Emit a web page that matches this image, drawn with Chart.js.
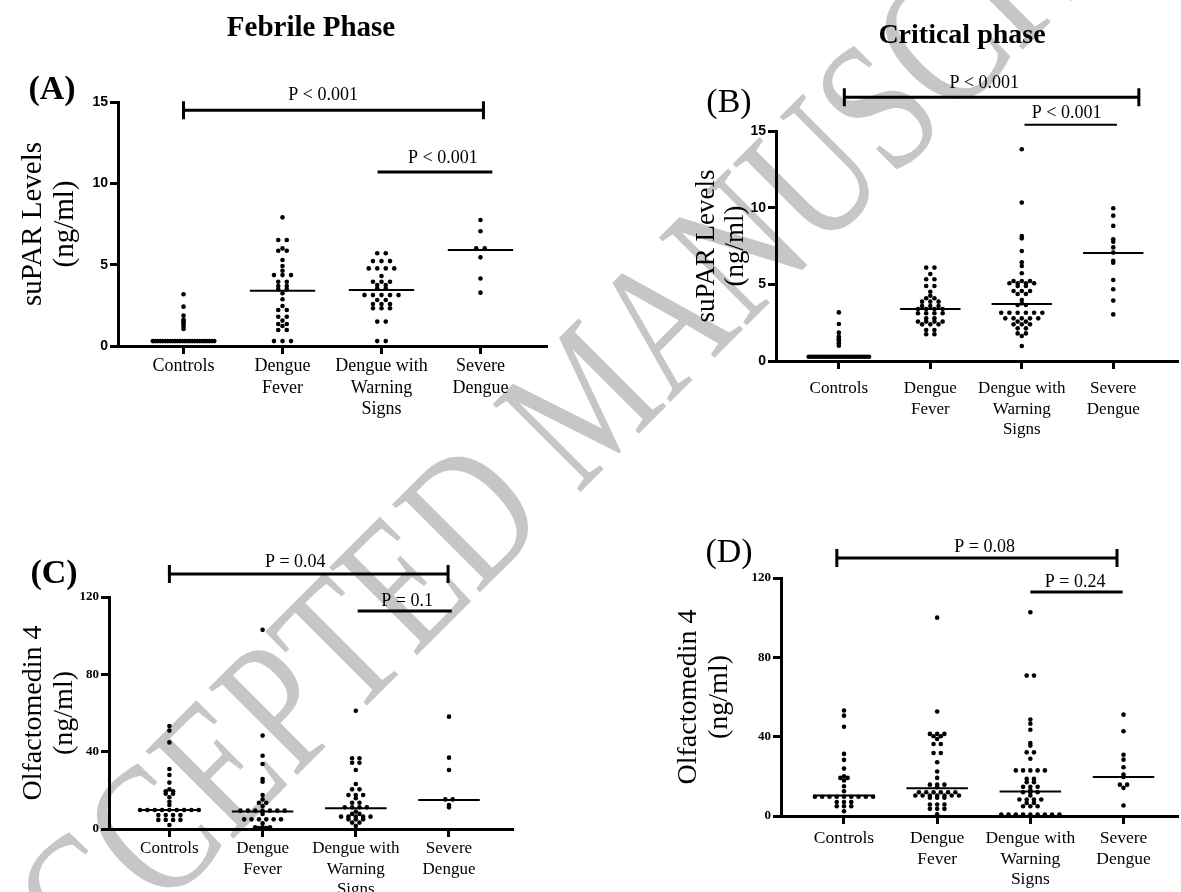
<!DOCTYPE html>
<html>
<head>
<meta charset="utf-8">
<script src="https://cdn.jsdelivr.net/npm/chart.js@4.4.0/dist/chart.umd.min.js"></script>
<style>
html, body { margin: 0; padding: 0; background: #fff; }
#page { position: relative; width: 1181px; height: 892px; overflow: hidden; }
#mark {
    position: absolute; left: 0; top: 0;
    font-family: "Liberation Serif", serif; font-size: 146px; line-height: 1;
    color: #c6c6c6; white-space: nowrap;
    transform-origin: 0 0; transform: translate(-94px, 942px) rotate(-45deg) scale(1, 1.3);
}
canvas { position: absolute; left: 0; top: 0; pointer-events: none; }
</style>
</head>
<body>
<div id="page">
<div id="mark">ACCEPTED MANUSCRIPT</div>
<canvas id="chartA" width="1181" height="892"></canvas>
<canvas id="chartB" width="1181" height="892"></canvas>
<canvas id="chartC" width="1181" height="892"></canvas>
<canvas id="chartD" width="1181" height="892"></canvas>
</div>
<script>
var groupLabels = [['Controls'], ['Dengue', 'Fever'], ['Dengue with', 'Warning', 'Signs'], ['Severe', 'Dengue']];

// (A) suPAR, febrile phase
var febSuparControls = [3.18, 2.42, 1.87, 1.62, 1.55, 1.45, 1.35, 1.2, 1.05,
    0.3, 0.3, 0.3, 0.3, 0.3, 0.3, 0.3, 0.3, 0.3, 0.3, 0.3, 0.3, 0.3,
    0.3, 0.3, 0.3, 0.3, 0.3, 0.3, 0.3, 0.3, 0.3, 0.3, 0.3, 0.3, 0.3];
var febSuparDF = [7.91, 6.52, 6.52, 6.0, 5.86, 5.86, 5.29, 4.92, 4.63, 4.36, 4.36, 4.36,
    3.95, 3.95, 3.69, 3.69, 3.48, 3.48, 3.24, 2.87, 2.46, 2.21, 2.21, 1.8, 1.8,
    1.56, 1.35, 1.35, 1.23, 0.98, 0.98, 0.3, 0.3, 0.3];
var febSuparDWS = [5.7, 5.7, 5.22, 5.22, 5.22, 4.77, 4.77, 4.77, 4.77, 4.3, 3.95, 3.95, 3.95,
    3.75, 3.75, 3.54, 3.54, 3.13, 3.13, 3.13, 3.13, 3.13, 2.83, 2.83, 2.58, 2.58, 2.58,
    2.32, 2.32, 2.32, 1.5, 1.5, 0.3, 0.3];
var febSuparSD = [7.75, 7.05, 6.0, 6.0, 5.45, 4.15, 3.28];
var febSuparMedians = [0.3, 3.4, 3.44, 5.9];
var febSuparP = ['P < 0.001', 'P < 0.001'];

// (B) suPAR, critical phase
var critSuparControls = [3.17, 2.41, 1.85, 1.6, 1.5, 1.4, 1.3, 1.15, 1.0,
    0.28, 0.28, 0.28, 0.28, 0.28, 0.28, 0.28, 0.28, 0.28, 0.28, 0.28, 0.28, 0.28,
    0.28, 0.28, 0.28, 0.28, 0.28, 0.28, 0.28, 0.28, 0.28, 0.28, 0.28, 0.28, 0.28];
var critSuparDF = [6.09, 6.09, 5.67, 5.33, 5.33, 4.89, 4.89, 4.52, 4.26, 4.09, 4.09,
    3.87, 3.87, 3.87, 3.59, 3.59, 3.59, 3.39, 3.39, 3.39, 3.39, 3.11, 3.11, 3.11, 3.11,
    2.78, 2.78, 2.57, 2.57, 2.57, 2.57, 2.39, 2.39, 2.39, 2.02, 2.02, 1.74, 1.74];
var critSuparDWS = [13.81, 10.33, 8.15, 8.0, 7.17, 6.44, 6.2, 5.72, 5.22, 5.22, 5.22,
    5.07, 5.07, 5.07, 5.07, 4.89, 4.89, 4.57, 4.57, 4.57, 4.37, 4.37, 3.98, 3.76, 3.65, 3.65,
    3.15, 3.15, 3.15, 3.15, 3.15, 3.15, 2.78, 2.78, 2.78, 2.78, 2.78, 2.57, 2.57,
    2.39, 2.39, 2.39, 2.13, 2.13, 1.8, 1.8, 1.63, 0.98];
var critSuparSD = [9.96, 9.48, 8.81, 7.94, 7.78, 7.41, 7.07, 6.54, 6.41, 5.28, 4.68, 3.94, 3.04];
var critSuparMedians = [0.28, 3.39, 3.72, 7.04];
var critSuparP = ['P < 0.001', 'P < 0.001'];

// (C) Olfactomedin 4, febrile phase
var febOlfControls = [53.3, 50.9, 44.8, 31.0, 27.9, 24.0, 20.5, 19.5, 19.5, 18.2, 18.2, 16.4, 14.1, 12.4,
    9.8, 9.8, 9.8, 9.8, 9.8, 9.8, 9.8, 9.8, 9.8, 7.2, 7.2, 7.2, 7.2, 4.7, 4.7, 4.7, 4.7, 2.1];
var febOlfDF = [103, 48.3, 37.9, 33.6, 25.9, 24.5, 17.6, 15.3, 13.6, 13.6, 11.9,
    9.5, 9.5, 9.5, 9.5, 9.5, 9.5, 9.5, 7.8, 5.0, 5.0, 5.0, 5.0, 5.0, 5.0, 2.9,
    0.9, 0.9, 0.9, 0.5, 0.5];
var febOlfDWS = [61.2, 36.6, 36.6, 34.3, 34.3, 30.5, 23.3, 20.5, 20.5, 17.6, 17.6, 17.6, 15.9,
    13.6, 13.6, 11.2, 11.2, 11.2, 11.2, 9.0, 7.8, 7.8, 6.4, 6.4, 6.4, 6.4, 6.4,
    5.0, 5.0, 5.0, 3.3, 3.3, 1.6];
var febOlfSD = [58.1, 36.9, 30.5, 15.3, 15.3, 12.4, 11.2];
var febOlfMedians = [9.8, 9.1, 10.7, 15.0];
var febOlfP = ['P = 0.04', 'P = 0.1'];

// (D) Olfactomedin 4, critical phase
var critOlfControls = [53.2, 50.6, 45.0, 31.3, 28.3, 23.9, 20.0, 19.2, 19.2, 17.9, 15.0, 12.5,
    9.7, 9.7, 9.7, 9.7, 9.7, 9.7, 9.7, 9.7, 9.7, 7.0, 7.0, 7.0, 4.9, 4.9, 4.9, 2.4];
var critOlfDF = [100.0, 52.7, 41.4, 41.4, 41.4, 40.2, 40.2, 38.8, 36.3, 36.3, 31.8, 31.8,
    27.1, 22.4, 19.2, 15.8, 15.8, 15.8, 14.5, 12.0, 12.0, 12.0, 12.0, 12.0, 12.0,
    10.3, 10.3, 10.3, 10.3, 10.3, 10.3, 10.3, 9.2, 9.2, 9.2, 5.8, 5.8, 5.8, 3.6, 3.6, 3.6, 0.8];
var critOlfDWS = [102.7, 70.8, 70.8, 48.6, 46.5, 43.5, 36.8, 35.5, 32.1, 32.1, 28.9,
    23.0, 23.0, 23.0, 23.0, 23.0, 18.7, 18.7, 17.0, 17.0, 14.7, 14.7, 14.7, 13.0,
    12.0, 12.0, 12.0, 10.3, 8.3, 8.3, 8.3, 8.3, 6.6, 6.6, 4.9, 4.9, 4.9,
    0.75, 0.75, 0.75, 0.75, 0.75, 0.75, 0.75, 0.75, 0.75];
var critOlfSD = [51.1, 42.7, 30.9, 28.4, 24.6, 20.9, 19.7, 15.8, 15.8, 14.2, 5.3];
var critOlfMedians = [10.3, 14.0, 12.3, 19.7];
var critOlfP = ['P = 0.08', 'P = 0.24'];

var SERIF = '"Liberation Serif", "Times New Roman", serif';
var SANS = '"Liberation Sans", Arial, sans-serif';
var MED_HALF = 0.33;

// dots of equal value sit side by side in one row, squeezed when the row is too wide
function swarm(values, cat, step, maxHalf) {
    var rows = {}, order = [];
    values.forEach(function(v) {
        if (!rows[v]) { rows[v] = 0; order.push(v); }
        rows[v]++;
    });
    var pts = [];
    order.forEach(function(v) {
        var n = rows[v];
        var s = n > 1 ? Math.min(step, 2 * maxHalf / (n - 1)) : 0;
        for (var i = 0; i < n; i++) pts.push({x: cat + (i - (n - 1) / 2) * s, y: v});
    });
    return pts;
}

function marksPlugin(p) {
    return {
        id: 'marks',
        afterDraw: function(chart) {
            var ctx = chart.ctx, xs = chart.scales.x, ys = chart.scales.y;
            ctx.save();
            ctx.fillStyle = '#000';
            ctx.strokeStyle = '#000';
            ctx.textAlign = 'center';
            ctx.textBaseline = 'middle';
            p.brackets.forEach(function(b, i) {
                var x1 = xs.getPixelForValue(b.from), x2 = xs.getPixelForValue(b.to);
                var y = ys.getPixelForValue(b.y);
                ctx.lineWidth = b.w;
                ctx.beginPath();
                ctx.moveTo(x1, y); ctx.lineTo(x2, y);
                if (b.ends) {
                    ctx.moveTo(x1, y - 9); ctx.lineTo(x1, y + 9);
                    ctx.moveTo(x2, y - 9); ctx.lineTo(x2, y + 9);
                }
                ctx.stroke();
                ctx.font = '18px ' + SERIF;
                ctx.fillText(p.pLabels[i], xs.getPixelForValue(b.tx), ys.getPixelForValue(b.ty));
            });
            ctx.font = p.letterFont;
            ctx.fillText(p.letter, p.letterAt[0], p.letterAt[1]);
            if (p.title) {
                ctx.font = p.titleFont;
                ctx.fillText(p.title, p.titleAt[0], p.titleAt[1]);
            }
            ctx.restore();
        }
    };
}

function makePanel(p) {
    var datasets = [];
    p.series.forEach(function(vals, i) {
        datasets.push({
            data: swarm(vals, i, p.step, p.maxHalf),
            pointRadius: 2.3, pointBackgroundColor: '#000', pointBorderWidth: 0, clip: false
        });
        datasets.push({
            data: [{x: i - MED_HALF, y: p.medians[i]}, {x: i + MED_HALF, y: p.medians[i]}],
            showLine: true, borderColor: '#000', borderWidth: 2, pointRadius: 0, clip: false
        });
    });
    var axisLine = {color: '#000', width: 3};
    var tickMarks = {drawOnChartArea: false, color: '#000', lineWidth: 3, tickLength: 8};

    new Chart(document.getElementById(p.id), {
        type: 'scatter',
        data: {datasets: datasets},
        options: {
            responsive: false,
            animation: false,
            events: [],
            layout: {padding: {left: p.padLeft, top: p.area[1], right: 1181 - p.area[2], bottom: 0}},
            plugins: {legend: {display: false}, tooltip: {enabled: false}},
            scales: {
                x: {
                    type: 'linear', min: p.xMin, max: p.xMax,
                    afterBuildTicks: function(s) { s.ticks = [0, 1, 2, 3].map(function(v) { return {value: v}; }); },
                    afterFit: function(s) { s.height = 892 - p.area[3]; },
                    ticks: {
                        callback: function(v) { return groupLabels[v]; },
                        autoSkip: false, maxRotation: 0, color: '#000', padding: p.xPad,
                        font: {family: SERIF, size: p.xFont, lineHeight: 1.18}
                    },
                    grid: tickMarks,
                    border: axisLine
                },
                y: {
                    min: 0, max: p.yMax,
                    afterFit: function(s) { s.width = p.area[0] - p.padLeft; },
                    ticks: {stepSize: p.yStep, color: '#000', padding: 2, font: p.yFont},
                    grid: tickMarks,
                    border: axisLine,
                    title: {
                        display: true, text: p.yTitle, color: '#000', padding: {top: 0, bottom: 0},
                        font: {family: SERIF, size: p.titleSize, lineHeight: 1.08}
                    }
                }
            }
        },
        plugins: [marksPlugin(p)]
    });
}

makePanel({
    id: 'chartA', area: [118, 102, 546, 346], padLeft: 18,
    xMin: -0.662, xMax: 3.662, step: 0.086, maxHalf: 0.31, xFont: 18, xPad: 2,
    yMax: 15, yStep: 5, yFont: {family: SANS, size: 14, weight: 'bold'},
    yTitle: ['suPAR Levels', '(ng/ml)'], titleSize: 29,
    series: [febSuparControls, febSuparDF, febSuparDWS, febSuparSD], medians: febSuparMedians,
    pLabels: febSuparP,
    brackets: [
        {from: 0, to: 3.03, y: 14.5, ends: true, w: 3, tx: 1.41, ty: 15.43},
        {from: 1.96, to: 3.12, y: 10.7, ends: false, w: 3, tx: 2.62, ty: 11.56}
    ],
    letter: '(A)', letterFont: 'bold 34px ' + SERIF, letterAt: [52, 90],
    title: 'Febrile Phase', titleFont: 'bold 29px ' + SERIF, titleAt: [311, 29]
});

makePanel({
    id: 'chartB', area: [776, 131, 1178, 361], padLeft: 692,
    xMin: -0.687, xMax: 3.697, step: 0.09, maxHalf: 0.33, xFont: 17, xPad: 10,
    yMax: 15, yStep: 5, yFont: {family: SANS, size: 14, weight: 'bold'},
    yTitle: ['suPAR Levels', '(ng/ml)'], titleSize: 27,
    series: [critSuparControls, critSuparDF, critSuparDWS, critSuparSD], medians: critSuparMedians,
    pLabels: critSuparP,
    brackets: [
        {from: 0.06, to: 3.28, y: 17.2, ends: true, w: 3, tx: 1.59, ty: 18.13},
        {from: 2.03, to: 3.04, y: 15.4, ends: false, w: 2, tx: 2.49, ty: 16.18}
    ],
    letter: '(B)', letterFont: '34px ' + SERIF, letterAt: [729, 103],
    title: 'Critical phase', titleFont: 'bold 28px ' + SERIF, titleAt: [962, 36]
});

makePanel({
    id: 'chartC', area: [109, 597, 512, 829], padLeft: 19,
    xMin: -0.648, xMax: 3.676, step: 0.079, maxHalf: 0.315, xFont: 17, xPad: 2,
    yMax: 120, yStep: 40, yFont: {family: SERIF, size: 13, weight: 'bold'},
    yTitle: ['Olfactomedin 4', '(ng/ml)'], titleSize: 28,
    series: [febOlfControls, febOlfDF, febOlfDWS, febOlfSD], medians: febOlfMedians,
    pLabels: febOlfP,
    brackets: [
        {from: 0, to: 2.99, y: 131.9, ends: true, w: 3, tx: 1.35, ty: 138.1},
        {from: 2.02, to: 3.03, y: 112.8, ends: false, w: 3, tx: 2.55, ty: 118}
    ],
    letter: '(C)', letterFont: 'bold 34px ' + SERIF, letterAt: [54, 574]
});

makePanel({
    id: 'chartD', area: [781, 578, 1181, 816], padLeft: 674,
    xMin: -0.676, xMax: 3.574, step: 0.078, maxHalf: 0.315, xFont: 17.5, xPad: 4,
    yMax: 120, yStep: 40, yFont: {family: SERIF, size: 13, weight: 'bold'},
    yTitle: ['Olfactomedin 4', '(ng/ml)'], titleSize: 28,
    series: [critOlfControls, critOlfDF, critOlfDWS, critOlfSD], medians: critOlfMedians,
    pLabels: critOlfP,
    brackets: [
        {from: -0.077, to: 2.93, y: 130.1, ends: true, w: 3, tx: 1.51, ty: 135.6},
        {from: 2.0, to: 2.99, y: 113, ends: false, w: 3, tx: 2.48, ty: 118}
    ],
    letter: '(D)', letterFont: '34px ' + SERIF, letterAt: [729, 553]
});
</script>
</body>
</html>
